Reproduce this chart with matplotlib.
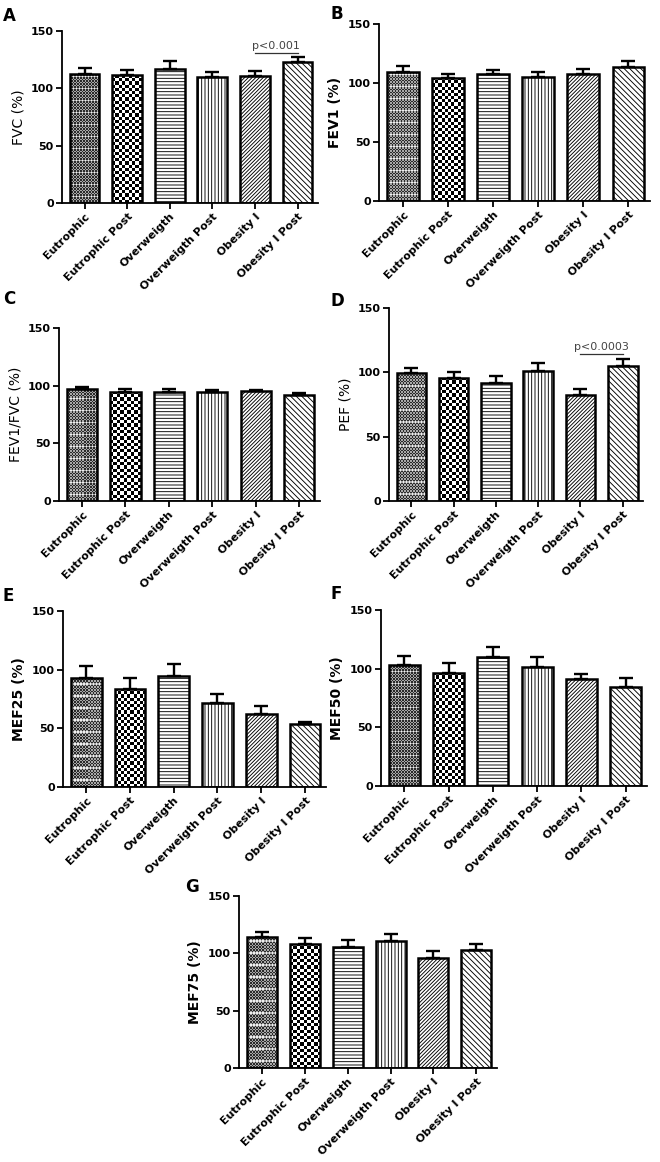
import numpy as np
import matplotlib
matplotlib.use('Agg')
import matplotlib.pyplot as plt
from matplotlib.colors import ListedColormap

plt.rcParams['font.family'] = ['DejaVu Sans']
plt.rcParams['hatch.linewidth'] = 0.65

categories = ["Eutrophic", "Eutrophic Post", "Overweigth", "Overweigth Post",
              "Obesity I", "Obesity I Post"]

fvc_mean = [112.4, 111.3, 116.8, 110.1, 110.7, 122.9]
fvc_sem = [5.0, 4.9, 7.0, 4.1, 4.6, 4.4]

fev1_mean = [109.0, 104.5, 107.6, 105.3, 107.3, 113.6]
fev1_sem = [5.0, 3.5, 3.4, 4.0, 4.7, 4.7]

ratio_mean = [97.1, 94.8, 94.2, 94.8, 95.6, 92.2]
ratio_sem = [1.5, 2.2, 2.6, 1.4, 0.6, 1.4]

pef_mean = [99.3, 95.7, 92.0, 101.4, 82.4, 105.3]
pef_sem = [4.2, 4.6, 5.2, 6.0, 4.9, 4.9]

mef25_mean = [92.9, 83.9, 94.3, 71.9, 62.5, 53.4]
mef25_sem = [10.6, 9.3, 10.9, 7.1, 6.3, 2.3]

mef50_mean = [103.1, 96.6, 110.2, 101.7, 90.9, 84.6]
mef50_sem = [7.7, 8.5, 8.3, 8.0, 4.3, 7.2]

mef75_mean = [114.0, 108.2, 105.9, 110.8, 95.8, 103.0]
mef75_sem = [4.7, 5.2, 5.5, 6.1, 6.3, 5.5]

y_ticks = [0, 50, 100, 150]

# annotations: (bar_a, bar_b, y, text)
annot_A = (4, 5, 131, "p<0.001")
annot_D = (4, 5, 114, "p<0.0003")

W, H = 660, 1162
fig = plt.figure(figsize=(W / 100, H / 100), dpi=100)

def px_axes(l, t, r, b):
    return fig.add_axes([l / W, 1 - b / H, (r - l) / W, (b - t) / H])

hatches = [None, None, '-----', '|||||', '/////////', '\\\\\\\\\\\\']

def texture(ax, bar, cell, colors, stripes=False):
    x0, y0 = bar.get_x(), bar.get_y()
    w, h = bar.get_width(), bar.get_height()
    p0 = ax.transData.transform((x0, y0))
    p1 = ax.transData.transform((x0 + w, y0 + h))
    nx = max(1, int(round((p1[0] - p0[0]) / cell)))
    ny = max(1, int(round((p1[1] - p0[1]) / cell)))
    img = (np.add.outer(np.arange(ny), np.arange(nx)) % 2).astype(float)
    if stripes:
        # light dashed bands typical of the fine-dot pattern
        for r in range(4, ny, 8):
            img[r, ::2] = 2
    im = ax.imshow(img, extent=(x0, x0 + w, y0, y0 + h),
                   cmap=ListedColormap(colors), vmin=0, vmax=len(colors) - 1,
                   aspect='auto', interpolation='nearest', origin='lower',
                   zorder=1.5)
    im.set_clip_path(bar)

def panel(rect, means, sems, ylabel, letter, letter_xy, bold_label, annot=None):
    ax = px_axes(*rect)
    x = np.arange(len(categories))
    ax.set_xlim(-0.53, 5.48)
    ax.set_ylim(0, 150)
    bars = ax.bar(x, means, width=0.7, facecolor='none', edgecolor='black',
                  linewidth=1.8, zorder=2)
    for b, h in zip(bars, hatches):
        if h:
            b.set_hatch(h)
    texture(ax, bars[0], 1.5, ['#2a2a2a', '#a8a8a8', '#f0f0f0'], stripes=True)
    texture(ax, bars[1], 3.2, ['black', 'white'])
    ax.errorbar(x, means, yerr=[np.zeros(len(means)), sems], fmt='none',
                ecolor='black', elinewidth=1.7, capsize=4.8, capthick=1.7,
                zorder=3)
    ax.set_xlim(-0.53, 5.48)
    ax.set_ylim(0, 150)
    for s in ['top', 'right']:
        ax.spines[s].set_visible(False)
    for s in ['left', 'bottom']:
        ax.spines[s].set_linewidth(1.3)
    ax.set_yticks(y_ticks)
    ax.set_yticklabels([str(v) for v in y_ticks], fontsize=8, fontweight='bold')
    ax.set_xticks(x)
    ax.set_xticklabels(categories, rotation=45, ha='right', va='top',
                       rotation_mode='anchor', fontsize=8, fontweight='bold')
    ax.tick_params(axis='both', length=4, width=1.3, pad=2)
    ax.set_ylabel(ylabel, fontsize=10, fontweight='bold' if bold_label else 'normal',
                  labelpad=4)
    fig.text(letter_xy[0] / W, 1 - letter_xy[1] / H, letter, fontsize=12,
             fontweight='bold', ha='left', va='top')
    if annot:
        a, b, yv, txt = annot
        ax.plot([a, b], [yv, yv], color='#333333', lw=0.9, zorder=3)
        ax.text((a + b) / 2, yv + 1.5, txt, ha='center', va='bottom',
                fontsize=8, color='#444444')
    return ax

panel((62, 31, 318, 203), fvc_mean, fvc_sem, "FVC (%)", "A", (3, 7), False, annot_A)
panel((379, 24, 650, 201), fev1_mean, fev1_sem, "FEV1 (%)", "B", (331, 5), True)
panel((59, 328, 320, 501), ratio_mean, ratio_sem, "FEV1/FVC (%)", "C", (3, 290), False)
panel((389, 308, 643, 501), pef_mean, pef_sem, "PEF (%)", "D", (331, 292), False, annot_D)
panel((63, 611, 326, 787), mef25_mean, mef25_sem, "MEF25 (%)", "E", (3, 587), True)
panel((381, 610, 647, 786), mef50_mean, mef50_sem, "MEF50 (%)", "F", (331, 585), True)
panel((239, 896, 497, 1068), mef75_mean, mef75_sem, "MEF75 (%)", "G", (185, 878), True)

fig.savefig('out.png', dpi=100, facecolor='white')
